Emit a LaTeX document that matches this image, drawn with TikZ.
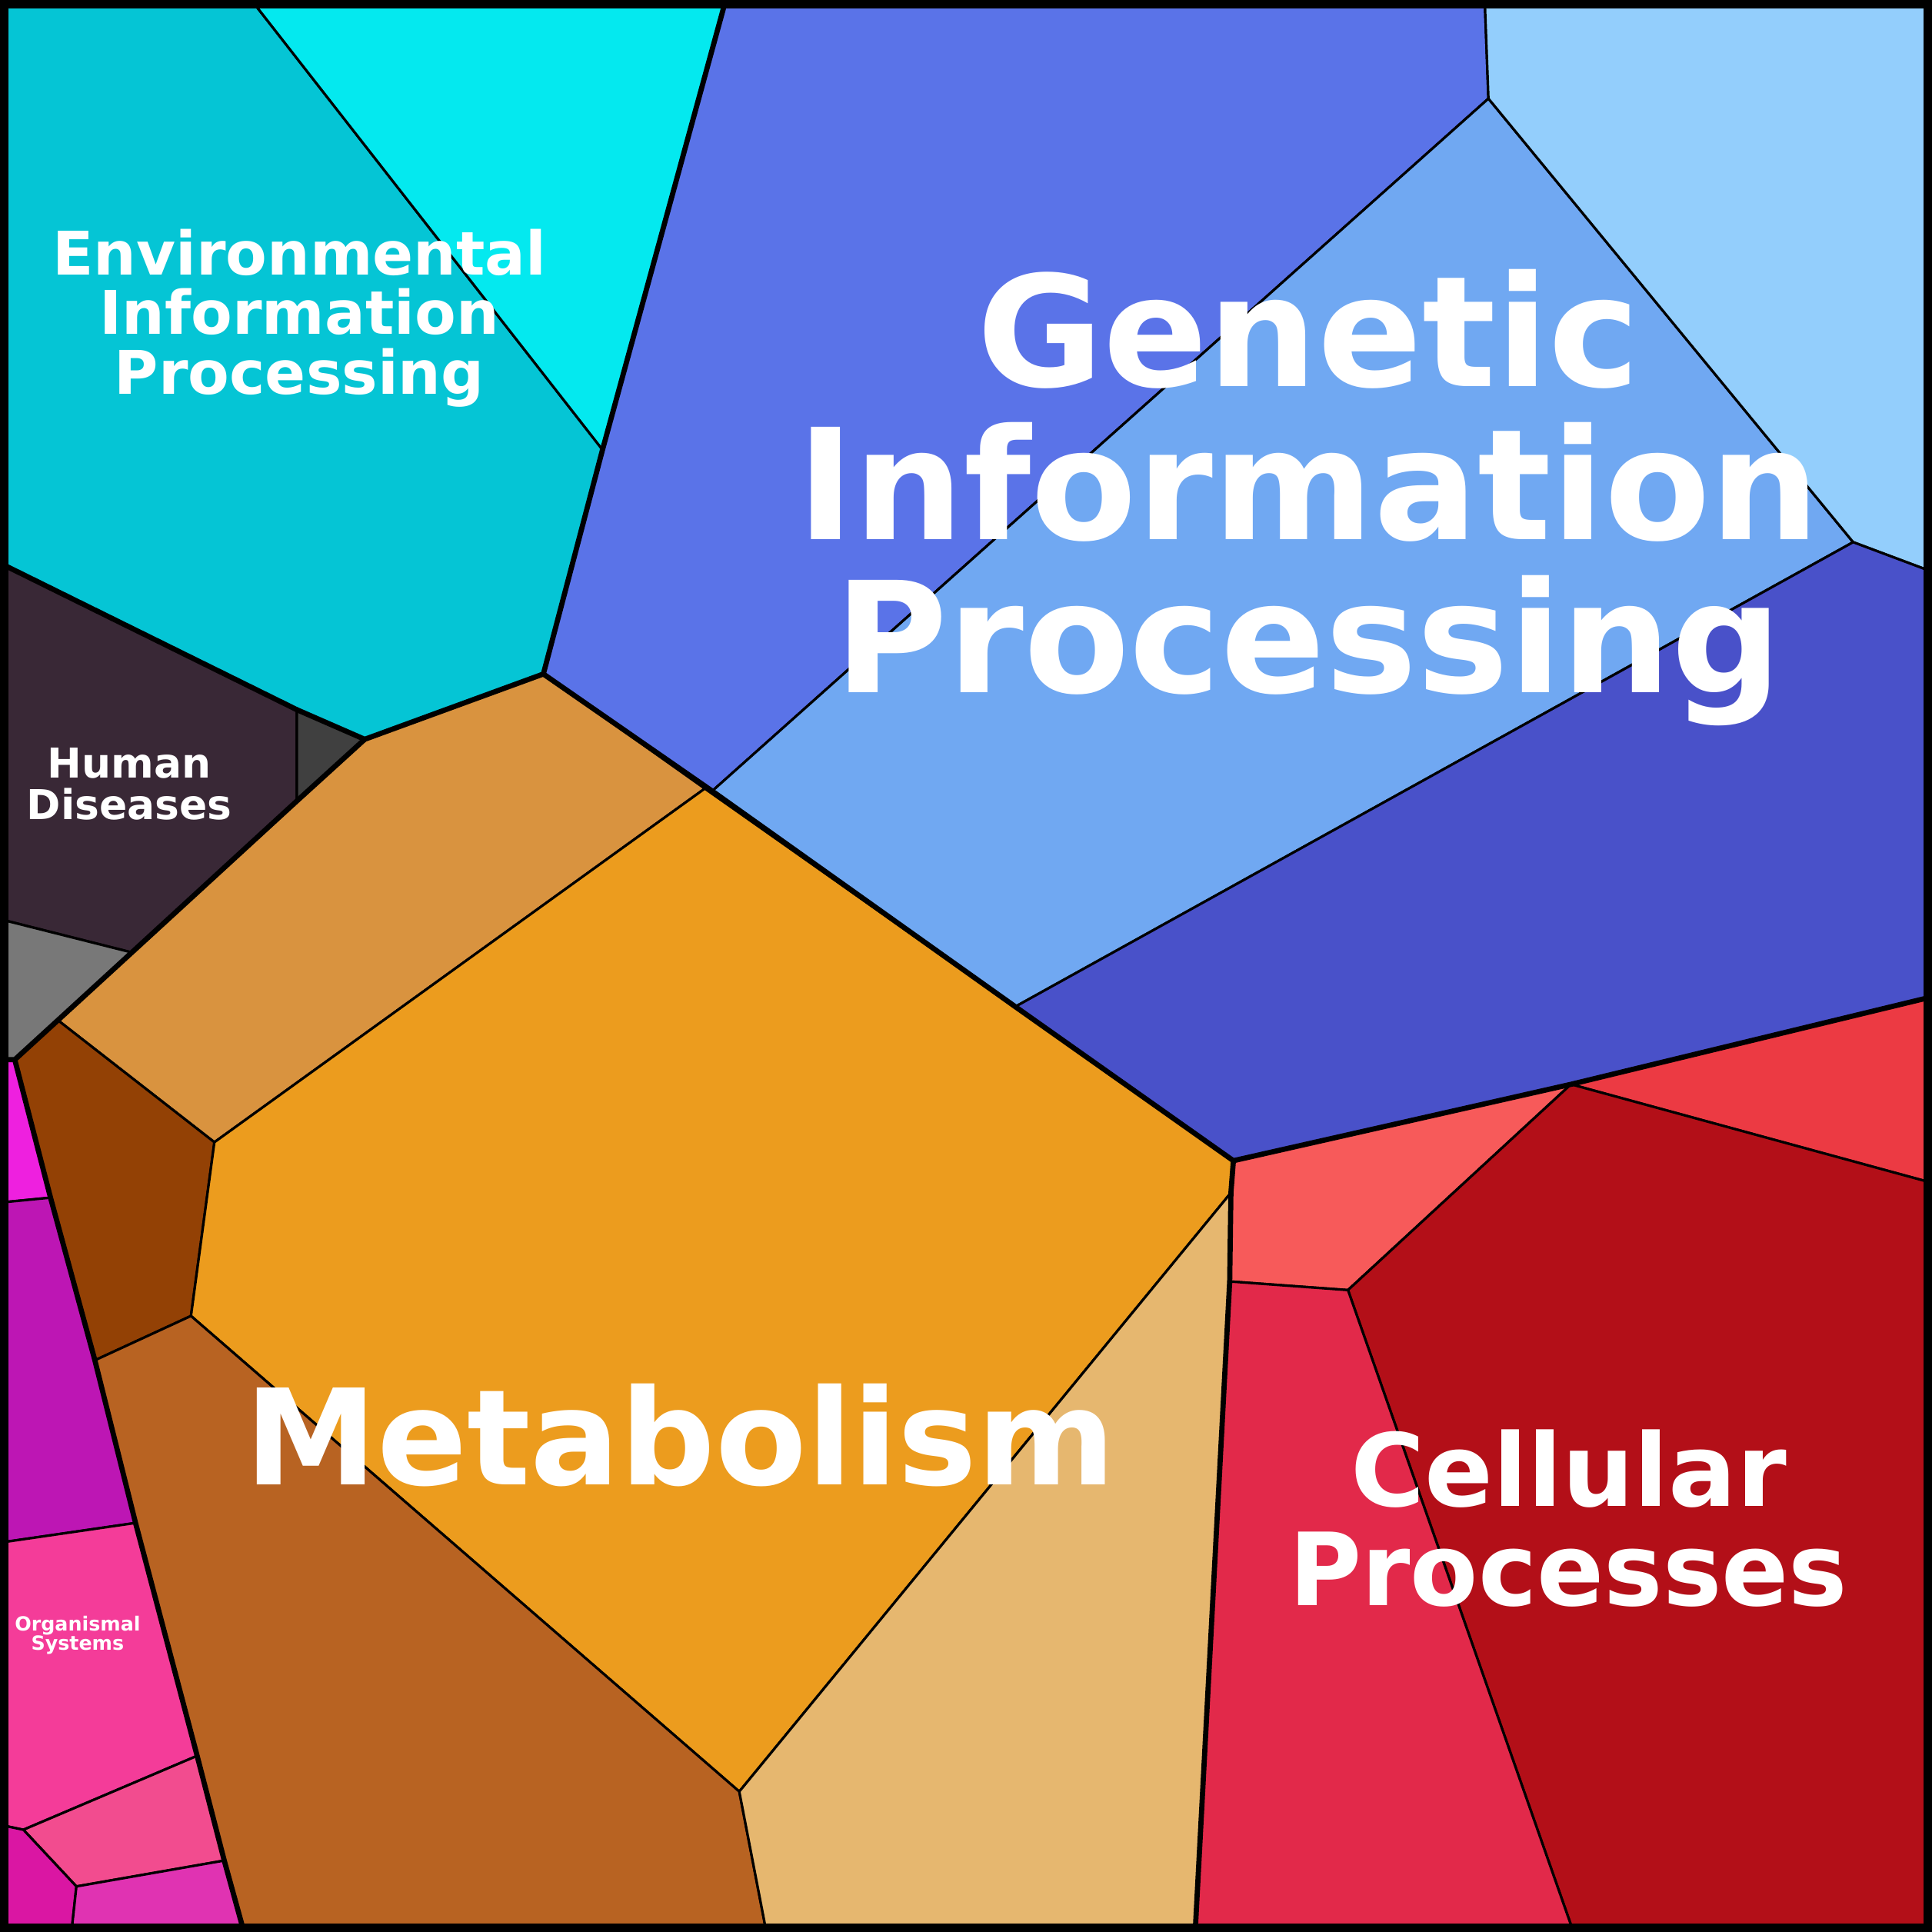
\documentclass[tikz,border=0pt]{standalone}
\usepackage{fontspec}
\setmainfont{DejaVu Sans}
\usepackage{tikz}

\definecolor{envteal}{RGB}{5,197,213}
\definecolor{envcyan}{RGB}{4,233,239}
\definecolor{genroyal}{RGB}{90,115,232}
\definecolor{genlight}{RGB}{112,168,242}
\definecolor{genpale}{RGB}{147,206,252}
\definecolor{gendark}{RGB}{73,81,201}
\definecolor{humplum}{RGB}{57,40,54}
\definecolor{humdark}{RGB}{64,64,64}
\definecolor{humgrey}{RGB}{120,120,120}
\definecolor{metsand}{RGB}{217,147,63}
\definecolor{metbrown}{RGB}{147,65,5}
\definecolor{metorange}{RGB}{236,156,30}
\definecolor{metrust}{RGB}{184,99,34}
\definecolor{mettan}{RGB}{230,183,111}
\definecolor{celsalmon}{RGB}{247,90,90}
\definecolor{celred}{RGB}{236,58,67}
\definecolor{celdark}{RGB}{179,15,24}
\definecolor{celcrimson}{RGB}{226,41,74}
\definecolor{orgviolet}{RGB}{238,32,223}
\definecolor{orgpurple}{RGB}{189,22,180}
\definecolor{orgpink}{RGB}{244,60,153}
\definecolor{orgrose}{RGB}{242,76,143}
\definecolor{orgmagenta}{RGB}{218,22,163}
\definecolor{orgfuchsia}{RGB}{224,51,178}

\tikzstyle{cell} = [draw=black, line width=0.2mm, line join=round]
\tikzstyle{groupline} = [draw=black, line width=0.42mm, line join=round, line cap=round]
\tikzstyle{catname} = [text=white, align=center, inner sep=0pt, anchor=base]

\begin{document}
\begin{tikzpicture}[x=0.1mm, y=-0.1mm]
			\useasboundingbox (0,0) rectangle (1568,1568);
			% frame corners and border points
			\coordinate (tl) at (0,0);       \coordinate (tr) at (1568,0);
			\coordinate (br) at (1568,1568); \coordinate (bl) at (0,1568);
			\coordinate (t1) at (204,0);  \coordinate (t2) at (589,0);  \coordinate (t3) at (1205,0);
			\coordinate (r1) at (1568,464); \coordinate (r2) at (1568,809); \coordinate (r3) at (1568,960);
			\coordinate (b1) at (58,1568);  \coordinate (b2) at (198,1568); \coordinate (b3) at (622,1568);
			\coordinate (b4) at (970,1568); \coordinate (b5) at (1277,1568);
			\coordinate (l1) at (0,457);  \coordinate (l2) at (0,746);  \coordinate (l3) at (0,860);
			\coordinate (l4) at (0,976);  \coordinate (l5) at (0,1252); \coordinate (l6) at (0,1481);
			% inner vertices
			\coordinate (e1) at (489,365); \coordinate (e2) at (441,547); \coordinate (e3) at (296,600);
			\coordinate (h1) at (241,576); \coordinate (h2) at (241,650); \coordinate (h3) at (107,773);
			\coordinate (h4) at (47,828);  \coordinate (h5) at (12,860);
			\coordinate (g1) at (1208,80); \coordinate (g2) at (1504,440); \coordinate (g3) at (578,642);
			\coordinate (g4) at (824,817);
			\coordinate (m0) at (572,640); \coordinate (m1) at (174,927); \coordinate (m2) at (155,1068);
			\coordinate (m3) at (77,1104); \coordinate (m4) at (600,1454); \coordinate (m5) at (1001,942);
			\coordinate (m6) at (999,968); \coordinate (m7) at (998,1040);
			\coordinate (c1) at (1275,880); \coordinate (c2) at (1094,1047);
			\coordinate (o1) at (41,972);  \coordinate (o2) at (110,1236); \coordinate (o3) at (160,1425);
			\coordinate (o4) at (182,1510); \coordinate (o5) at (19,1485); \coordinate (o6) at (62,1531);
			
			% Environmental Information Processing
			\path[cell, fill=envteal] (tl) -- (t1) -- (e1) -- (e2) -- (e3) -- (h1) -- (l1) -- cycle;
			\path[cell, fill=envcyan] (t1) -- (t2) -- (e1) -- cycle;
			% Genetic Information Processing
			\path[cell, fill=genroyal] (t2) -- (t3) -- (g1) -- (g3) -- (e2) -- (e1) -- cycle;
			\path[cell, fill=genlight] (g1) -- (g2) -- (g4) -- (g3) -- cycle;
			\path[cell, fill=genpale] (t3) -- (tr) -- (r1) -- (g2) -- (g1) -- cycle;
			\path[cell, fill=gendark] (g2) -- (r1) -- (r2) -- (c1) -- (m5) -- (g4) -- cycle;
			% Human Diseases
			\path[cell, fill=humplum] (l1) -- (h1) -- (h2) -- (h3) -- (l2) -- cycle;
			\path[cell, fill=humdark] (h1) -- (e3) -- (h2) -- cycle;
			\path[cell, fill=humgrey] (l2) -- (h3) -- (h4) -- (h5) -- (l3) -- cycle;
			% Metabolism
			\path[cell, fill=metsand] (e3) -- (e2) -- (m0) -- (m1) -- (h4) -- (h3) -- (h2) -- cycle;
			\path[cell, fill=metbrown] (h5) -- (h4) -- (m1) -- (m2) -- (m3) -- (o1) -- cycle;
			\path[cell, fill=metorange] (m0) -- (m5) -- (m6) -- (m4) -- (m2) -- (m1) -- cycle;
			\path[cell, fill=metrust] (m2) -- (m4) -- (b3) -- (b2) -- (o4) -- (o3) -- (o2) -- (m3) -- cycle;
			\path[cell, fill=mettan] (m6) -- (m7) -- (b4) -- (b3) -- (m4) -- cycle;
			% Cellular Processes
			\path[cell, fill=celsalmon] (m5) -- (c1) -- (c2) -- (m7) -- (m6) -- cycle;
			\path[cell, fill=celred] (c1) -- (r2) -- (r3) -- cycle;
			\path[cell, fill=celdark] (c1) -- (r3) -- (br) -- (b5) -- (c2) -- cycle;
			\path[cell, fill=celcrimson] (m7) -- (c2) -- (b5) -- (b4) -- cycle;
			% Organismal Systems
			\path[cell, fill=orgviolet] (l3) -- (h5) -- (o1) -- (l4) -- cycle;
			\path[cell, fill=orgpurple] (l4) -- (o1) -- (m3) -- (o2) -- (l5) -- cycle;
			\path[cell, fill=orgpink] (l5) -- (o2) -- (o3) -- (o5) -- (l6) -- cycle;
			\path[cell, fill=orgrose] (o5) -- (o3) -- (o4) -- (o6) -- cycle;
			\path[cell, fill=orgmagenta] (l6) -- (o5) -- (o6) -- (b1) -- (bl) -- cycle;
			\path[cell, fill=orgfuchsia] (o6) -- (o4) -- (b2) -- (b1) -- cycle;
			
			% borders between the groups
			\draw[groupline] (t2) -- (e1) -- (e2) -- (g3) -- (g4) -- (m5);
			\draw[groupline] (e2) -- (e3) -- (h1) -- (l1);
			\draw[groupline] (e3) -- (h2) -- (h3) -- (h4) -- (h5) -- (l3);
			\draw[groupline] (h5) -- (o1) -- (m3) -- (o2) -- (o3) -- (o4) -- (b2);
			\draw[groupline] (m5) -- (c1) -- (r2);
			\draw[groupline] (m5) -- (m6) -- (m7) -- (b4);
			\draw[line width=0.7mm] (3.5,3.5) rectangle (1564.5,1564.5);
			
			% group names (anchored on the baseline of the last line)
			\node[catname, font=\fontsize{13.9}{13.8}\selectfont\bfseries] (envname) at (243,320)
				{Environmental\\Information\\Processing};
			\node[catname, font=\fontsize{35.6}{35.3}\selectfont\bfseries] (genname) at (1062,562)
				{Genetic\\Information\\Processing};
			\node[catname, font=\fontsize{9.5}{9.5}\selectfont\bfseries] (humname) at (105,665)
				{Human\\Diseases};
			\node[catname, font=\fontsize{30.7}{30.7}\selectfont\bfseries] (metname) at (552,1205)
				{Metabolism};
			\node[catname, font=\fontsize{23.3}{22.9}\selectfont\bfseries] (celname) at (1273,1303)
				{Cellular\\\scalebox{0.98}[1]{Processes}};
			\node[catname, font=\fontsize{4.5}{4.4}\selectfont\bfseries] (orgname) at (63,1339)
				{Organismal\\Systems};
			
		\end{tikzpicture}
\end{document}
